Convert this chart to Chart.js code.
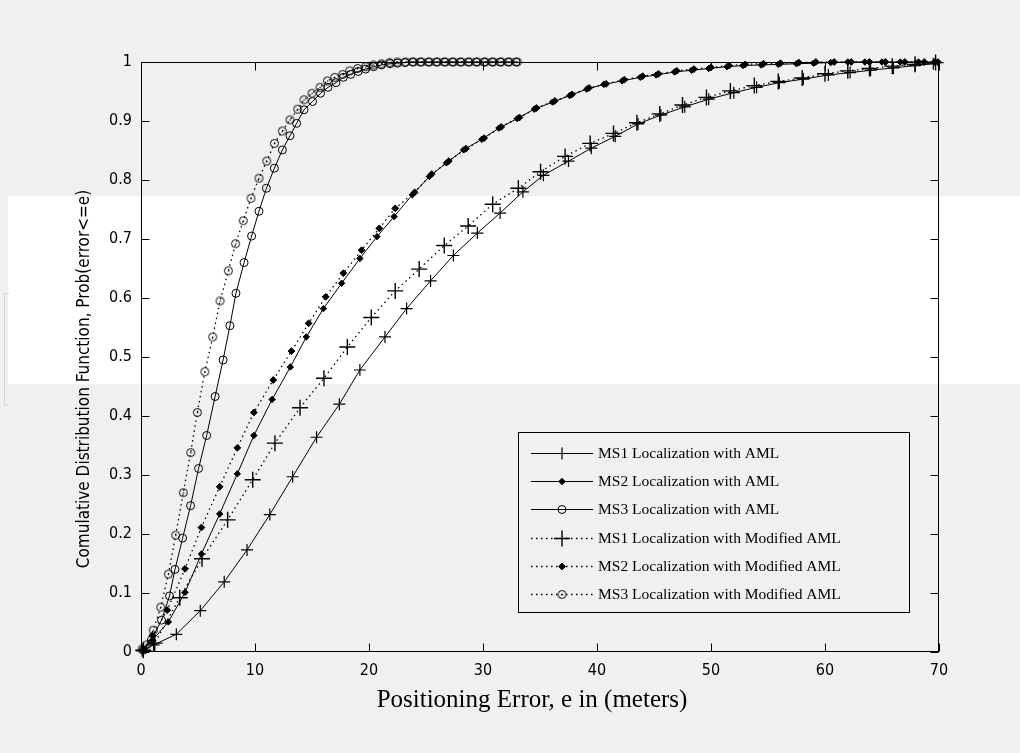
<!DOCTYPE html>
<html>
<head>
<meta charset="utf-8">
<script src="https://cdn.jsdelivr.net/npm/chart.js@4.4.0/dist/chart.umd.min.js"></script>
<style>
  html, body { margin: 0; padding: 0; background: #f0f0f0; }
  canvas { display: block; }
</style>
</head>
<body>
<canvas id="cdfChart" width="1020" height="753"></canvas>
<script>
// --- data (x = positioning error in m, y = CDF) ---
const ms1AmlX = [0.1, 1.1, 3.1, 5.2, 7.3, 9.3, 11.3, 13.3, 15.4, 17.4, 19.2, 21.4, 23.3, 25.4, 27.4, 29.5, 31.5, 33.5, 35.3, 37.5, 39.5, 41.6, 43.6, 45.6, 47.7, 49.8, 52.0, 54.0, 56.0, 58.1, 60.3, 62.2, 64.0, 66.0, 67.9, 69.5];
const ms1AmlY = [0.002, 0.012, 0.03, 0.07, 0.119, 0.173, 0.233, 0.297, 0.364, 0.42, 0.478, 0.534, 0.582, 0.629, 0.672, 0.71, 0.744, 0.78, 0.808, 0.832, 0.854, 0.874, 0.895, 0.91, 0.924, 0.937, 0.948, 0.957, 0.965, 0.971, 0.978, 0.982, 0.986, 0.99, 0.994, 0.997];

const ms2AmlX = [0.2, 1.0, 2.4, 3.86, 5.3, 6.9, 8.45, 9.9, 11.5, 13.1, 14.5, 16.0, 17.6, 19.2, 20.7, 22.2, 23.8, 25.3, 26.8, 28.3, 29.9, 31.4, 33.0, 34.5, 36.1, 37.6, 39.1, 40.6, 42.2, 43.8, 45.2, 46.8, 48.3, 49.8, 51.4, 52.8, 54.4, 55.9, 57.5, 59.0, 60.5, 62.0, 63.5, 65.0, 66.6, 68.2, 69.6];
const ms2AmlY = [0.003, 0.02, 0.051, 0.101, 0.166, 0.234, 0.302, 0.367, 0.428, 0.483, 0.534, 0.582, 0.625, 0.667, 0.704, 0.738, 0.775, 0.806, 0.829, 0.851, 0.869, 0.888, 0.904, 0.92, 0.932, 0.943, 0.954, 0.962, 0.968, 0.974, 0.978, 0.983, 0.986, 0.989, 0.992, 0.994, 0.995, 0.996, 0.997, 0.998, 0.999, 1, 1, 1, 1, 1, 1];

const ms3AmlX = [0.2, 0.9, 1.8, 2.5, 2.98, 3.65, 4.35, 5.05, 5.76, 6.5, 7.2, 7.8, 8.33, 9.04, 9.7, 10.35, 11.0, 11.7, 12.4, 13.07, 13.65, 14.3, 15.05, 15.75, 16.4, 17.1, 17.75, 18.4, 19.05, 19.7, 20.4, 21.1, 21.85, 22.5, 23.15, 23.8, 24.5, 25.2, 25.9, 26.6, 27.3, 28.0, 28.7, 29.4, 30.1, 30.8, 31.5, 32.2, 32.9];
const ms3AmlY = [0.003, 0.02, 0.054, 0.095, 0.14, 0.193, 0.248, 0.311, 0.367, 0.433, 0.495, 0.553, 0.608, 0.66, 0.705, 0.747, 0.786, 0.82, 0.851, 0.875, 0.896, 0.919, 0.933, 0.947, 0.957, 0.965, 0.974, 0.979, 0.984, 0.988, 0.992, 0.995, 0.997, 0.998, 0.999, 1, 1, 1, 1, 1, 1, 1, 1, 1, 1, 1, 1, 1, 1];

const ms1ModX = [0.2, 1.2, 3.4, 5.35, 7.6, 9.8, 11.75, 13.95, 16.05, 18.1, 20.2, 22.3, 24.4, 26.6, 28.7, 30.85, 33.1, 35.05, 37.2, 39.4, 41.45, 43.5, 45.5, 47.5, 49.6, 51.7, 53.8, 55.9, 58.0, 60.0, 62.0, 63.9, 65.9, 67.9, 69.7];
const ms1ModY = [0.003, 0.015, 0.092, 0.158, 0.224, 0.292, 0.354, 0.414, 0.464, 0.517, 0.567, 0.612, 0.649, 0.689, 0.722, 0.759, 0.786, 0.814, 0.84, 0.862, 0.879, 0.897, 0.912, 0.927, 0.94, 0.951, 0.96, 0.967, 0.973, 0.98, 0.985, 0.989, 0.993, 0.996, 0.999];

const ms2ModX = [0.2, 1.0, 2.3, 3.86, 5.3, 6.9, 8.45, 9.9, 11.6, 13.2, 14.7, 16.2, 17.75, 19.35, 20.9, 22.3, 24.0, 25.5, 27.0, 28.5, 30.1, 31.6, 33.2, 34.7, 36.3, 37.8, 39.3, 40.8, 42.4, 44.0, 45.4, 47.0, 48.5, 50.0, 51.6, 53.0, 54.6, 56.1, 57.7, 59.2, 60.8, 62.3, 63.9, 65.3, 67.0, 68.7, 69.9];
const ms2ModY = [0.004, 0.028, 0.071, 0.141, 0.211, 0.28, 0.346, 0.406, 0.461, 0.51, 0.557, 0.602, 0.642, 0.681, 0.718, 0.752, 0.779, 0.81, 0.832, 0.853, 0.871, 0.89, 0.906, 0.922, 0.934, 0.945, 0.956, 0.963, 0.97, 0.976, 0.98, 0.985, 0.988, 0.991, 0.994, 0.996, 0.997, 0.998, 0.999, 1, 1, 1, 1, 1, 1, 1, 1];

const ms3ModX = [0.1, 0.5, 1.08, 1.73, 2.4, 3.04, 3.71, 4.36, 4.94, 5.6, 6.29, 6.93, 7.66, 8.3, 8.97, 9.65, 10.35, 11.03, 11.7, 12.4, 13.07, 13.75, 14.3, 15.0, 15.7, 16.35, 17.0, 17.7, 18.3, 19.0, 19.7, 20.4, 21.1, 21.8, 22.5, 23.2, 23.9, 24.6, 25.3, 26.0, 26.7, 27.4, 28.1, 28.8, 29.5, 30.2, 30.9, 31.6, 32.3, 33.0];
const ms3ModY = [0.005, 0.012, 0.037, 0.076, 0.132, 0.198, 0.27, 0.338, 0.406, 0.475, 0.534, 0.595, 0.646, 0.692, 0.731, 0.769, 0.803, 0.832, 0.862, 0.883, 0.902, 0.92, 0.936, 0.947, 0.957, 0.968, 0.974, 0.979, 0.985, 0.989, 0.992, 0.995, 0.997, 0.999, 1, 1, 1, 1, 1, 1, 1, 1, 1, 1, 1, 1, 1, 1, 1, 1];

const xTickLabels = ['0', '10', '20', '30', '40', '50', '60', '70'];
const yTickLabels = ['0', '0.1', '0.2', '0.3', '0.4', '0.5', '0.6', '0.7', '0.8', '0.9', '1'];

const seriesLabels = [
    'MS1 Localization with AML',
    'MS2 Localization with AML',
    'MS3 Localization with AML',
    'MS1 Localization with Modified AML',
    'MS2 Localization with Modified AML',
    'MS3 Localization with Modified AML'
];
const xTitle = 'Positioning Error, e in (meters)';
const yTitle = 'Comulative Distribution Function, Prob(error<=e)';

// --- styling ---
const narrowFont = "'DejaVu Sans Condensed', 'Liberation Sans Narrow', sans-serif";
const serifFont = "'Liberation Serif', 'DejaVu Serif', serif";
const DOTS = [1.5, 3.5];

// open circle with a dot in the middle (MS3 modified marker)
function ringWithDot() {
    const c = document.createElement('canvas');
    c.width = 11;
    c.height = 11;
    const g = c.getContext('2d');
    g.strokeStyle = '#000';
    g.lineWidth = 1;
    g.beginPath();
    g.arc(5.5, 5.5, 4, 0, Math.PI * 2);
    g.stroke();
    g.fillStyle = '#000';
    g.fillRect(5, 5, 1.3, 1.3);
    return c;
}

function toPoints(xs, ys) {
    return xs.map((x, i) => ({ x: x, y: ys[i] }));
}

function makeSeries(label, xs, ys, opts) {
    return Object.assign({
        label: label,
        data: toPoints(xs, ys),
        borderColor: '#000',
        borderWidth: 1,
        pointBorderColor: '#000',
        pointBackgroundColor: 'rgba(0,0,0,0)',
        pointBorderWidth: 1,
        pointHoverRadius: 0,
        tension: 0,
        fill: false,
        clip: 10
    }, opts);
}

const datasets = [
    makeSeries(seriesLabels[0], ms1AmlX, ms1AmlY, { pointStyle: 'cross', pointRadius: 6, pointBorderWidth: 1.2 }),
    makeSeries(seriesLabels[1], ms2AmlX, ms2AmlY, { pointStyle: 'rectRot', pointRadius: 3.2, pointBackgroundColor: '#000' }),
    makeSeries(seriesLabels[2], ms3AmlX, ms3AmlY, { pointStyle: 'circle', pointRadius: 4 }),
    makeSeries(seriesLabels[3], ms1ModX, ms1ModY, { pointStyle: 'cross', pointRadius: 8, pointBorderWidth: 1.4, borderDash: DOTS, borderWidth: 1.3 }),
    makeSeries(seriesLabels[4], ms2ModX, ms2ModY, { pointStyle: 'rectRot', pointRadius: 3.4, pointBackgroundColor: '#000', borderDash: DOTS, borderWidth: 1.3 }),
    makeSeries(seriesLabels[5], ms3ModX, ms3ModY, { pointStyle: ringWithDot(), borderDash: DOTS, borderWidth: 1.3 })
];

// page background, axes box, inward ticks, titles and the legend box
const figurePlugin = {
    id: 'figure',
    beforeDraw(chart) {
        const ctx = chart.ctx;
        ctx.save();
        ctx.fillStyle = '#f0f0f0';
        ctx.fillRect(0, 0, chart.width, chart.height);
        ctx.fillStyle = '#ffffff';
        ctx.fillRect(8, 196, chart.width - 8, 188);
        ctx.strokeStyle = '#d6d6d6';
        ctx.lineWidth = 1;
        ctx.beginPath();
        ctx.moveTo(9, 293.5);
        ctx.lineTo(4.5, 293.5);
        ctx.lineTo(4.5, 405.5);
        ctx.lineTo(9, 405.5);
        ctx.stroke();
        ctx.restore();
    },
    beforeDatasetsDraw(chart) {
        const { ctx, chartArea: a, scales } = chart;
        const L = Math.round(a.left) + 0.5, R = Math.round(a.right) - 0.5;
        const T = Math.round(a.top) + 0.5, B = Math.round(a.bottom) - 0.5;
        const len = 8;
        ctx.save();
        ctx.strokeStyle = '#000';
        ctx.lineWidth = 1;
        ctx.strokeRect(L, T, R - L, B - T);
        ctx.beginPath();
        scales.x.ticks.forEach(t => {
            const px = Math.round(scales.x.getPixelForValue(t.value)) + 0.5;
            ctx.moveTo(px, B); ctx.lineTo(px, B - len);
            ctx.moveTo(px, T); ctx.lineTo(px, T + len);
        });
        scales.y.ticks.forEach(t => {
            const py = Math.round(scales.y.getPixelForValue(t.value)) + 0.5;
            ctx.moveTo(L, py); ctx.lineTo(L + len, py);
            ctx.moveTo(R, py); ctx.lineTo(R - len, py);
        });
        ctx.stroke();

        // axis titles
        ctx.fillStyle = '#000';
        ctx.textAlign = 'center';
        ctx.textBaseline = 'middle';
        ctx.font = '25px ' + serifFont;
        ctx.fillText(xTitle, 532, 700);
        ctx.translate(85, 379);
        ctx.rotate(-Math.PI / 2);
        ctx.font = '17px ' + narrowFont;
        ctx.fillText(yTitle, 0, 0);
        ctx.restore();
    },
    afterDatasetsDraw(chart) {
        const ctx = chart.ctx;
        const box = { left: 518.5, top: 432.5, right: 909.5, bottom: 612.5 };
        ctx.save();
        ctx.fillStyle = '#f0f0f0';
        ctx.fillRect(box.left, box.top, box.right - box.left, box.bottom - box.top);
        ctx.strokeStyle = '#000';
        ctx.lineWidth = 1;
        ctx.strokeRect(box.left, box.top, box.right - box.left, box.bottom - box.top);
        chart.data.datasets.forEach((ds, i) => {
            const y = Math.round(453 + i * 28.2) + 0.5;
            ctx.strokeStyle = '#000';
            ctx.lineWidth = ds.borderWidth;
            ctx.setLineDash(ds.borderDash || []);
            ctx.beginPath();
            ctx.moveTo(531, y);
            ctx.lineTo(593, y);
            ctx.stroke();
            ctx.setLineDash([]);
            ctx.lineWidth = ds.pointBorderWidth;
            ctx.fillStyle = ds.pointBackgroundColor;
            Chart.helpers.drawPoint(ctx, {
                pointStyle: ds.pointStyle,
                radius: ds.pointRadius === undefined ? 4 : ds.pointRadius,
                rotation: 0,
                borderWidth: ds.pointBorderWidth
            }, 562, y);
            ctx.fillStyle = '#000';
            ctx.font = '15.5px ' + serifFont;
            ctx.textBaseline = 'middle';
            ctx.fillText(ds.label, 598, y);
        });
        ctx.restore();
    }
};

new Chart(document.getElementById('cdfChart'), {
    type: 'line',
    data: { datasets: datasets },
    plugins: [figurePlugin],
    options: {
        responsive: false,
        devicePixelRatio: 1,
        animation: false,
        events: [],
        layout: { padding: { left: 0, top: 62, right: 81, bottom: 0 } },
        plugins: {
            legend: { display: false },
            tooltip: { enabled: false }
        },
        scales: {
            x: {
                type: 'linear',
                min: 0,
                max: 70,
                grid: { display: false },
                border: { display: false },
                ticks: {
                    stepSize: 10,
                    padding: 1,
                    color: '#000',
                    maxRotation: 0,
                    font: { family: narrowFont, size: 16 },
                    callback: (v) => xTickLabels[Math.round(v / 10)]
                },
                afterFit: (s) => { s.height = 101; }
            },
            y: {
                type: 'linear',
                min: 0,
                max: 1,
                grid: { display: false },
                border: { display: false },
                ticks: {
                    stepSize: 0.1,
                    padding: 1,
                    color: '#000',
                    font: { family: narrowFont, size: 16 },
                    callback: (v) => yTickLabels[Math.round(v * 10)]
                },
                afterFit: (s) => { s.width = 141; }
            }
        }
    }
});
</script>
</body>
</html>
